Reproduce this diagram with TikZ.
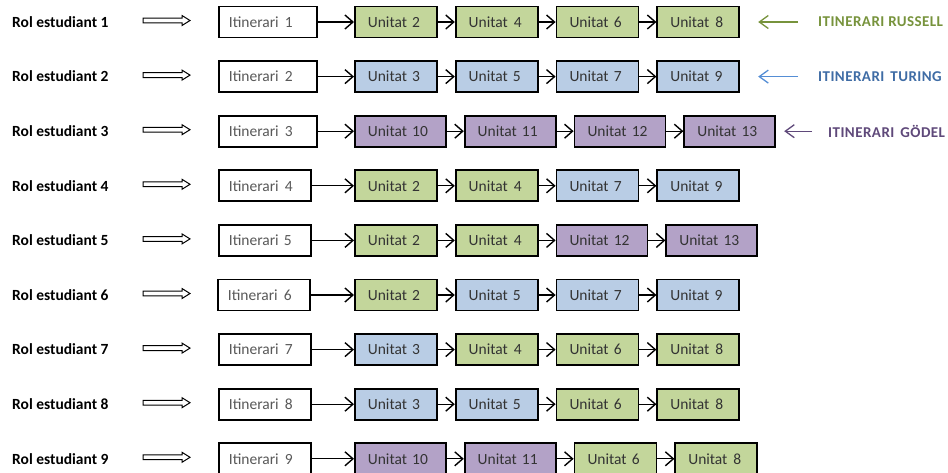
\documentclass[tikz,border=0pt]{standalone}
\usepackage{fontspec}
\setmainfont{Carlito}
\usepackage{xcolor}
\usetikzlibrary{arrows.meta,positioning}

\definecolor{rusfill}{HTML}{C3D69B}
\definecolor{turfill}{HTML}{B9CDE5}
\definecolor{godfill}{HTML}{B3A2C7}
\definecolor{rusline}{HTML}{77933C}
\definecolor{turline}{HTML}{558ED5}
\definecolor{turtext}{HTML}{3F6CA5}
\definecolor{godline}{HTML}{5F497A}
\definecolor{boxtext}{HTML}{333333}

\newcommand{\gap}{\hspace{6pt}}

\begin{document}
\begin{tikzpicture}[
  x=1pt, y=-1pt,
  node distance=17pt,
  box/.style={rectangle, draw=black, line width=1.8pt, anchor=west,
              font=\fontsize{15.5}{18}\selectfont, text=boxtext,
              minimum height=31pt, inner xsep=0pt, inner ysep=0pt,
              align=left},
  itin/.style={box, fill=white, text=black!65, text width=86pt, minimum width=92pt},
  wideitin/.style={itin, text width=92pt, minimum width=98pt},
  rus/.style={box, fill=rusfill, text width=70pt, minimum width=82pt},
  tur/.style={box, fill=turfill, text width=70pt, minimum width=82pt},
  god/.style={box, fill=godfill, text width=79pt, minimum width=91pt},
  rol/.style={anchor=west, font=\fontsize{15.5}{18}\selectfont\bfseries, inner sep=0pt},
  legend/.style={anchor=west, font=\fontsize{15}{18}\selectfont\bfseries\addfontfeature{LetterSpace=3}, inner sep=0pt},
  flow/.style={-{Straight Barb[length=8pt, width=14pt, line width=1.4pt]}, draw=black, line width=1.3pt},
  back/.style={-{Straight Barb[length=9pt, width=13pt, line width=1.3pt]}, line width=1.3pt},
  dblarrow/.pic={
    \draw[line width=1pt, fill=white, line join=miter]
      (0,-2.4) -- (39,-2.4) -- (39,-5) -- (47,-0) -- (39,5) -- (39,2.4) -- (0,2.4) -- cycle;
  }
]
\useasboundingbox (0,0) rectangle (948,472);

% student roles and their double arrows
\node[rol] (r1) at (12,22)    {Rol estudiant 1};
\node[rol] (r2) at (12,76.6)  {Rol estudiant 2};
\node[rol] (r3) at (12,131.2) {Rol estudiant 3};
\node[rol] (r4) at (12,185.8) {Rol estudiant 4};
\node[rol] (r5) at (12,240.4) {Rol estudiant 5};
\node[rol] (r6) at (12,295)   {Rol estudiant 6};
\node[rol] (r7) at (12,349.6) {Rol estudiant 7};
\node[rol] (r8) at (12,404.2) {Rol estudiant 8};
\node[rol] (r9) at (12,458.8) {Rol estudiant 9};
\pic at (143,20.5)  {dblarrow};
\pic at (143,75.1)  {dblarrow};
\pic at (143,129.7) {dblarrow};
\pic at (143,184.3) {dblarrow};
\pic at (143,238.9) {dblarrow};
\pic at (143,293.5) {dblarrow};
\pic at (143,348.1) {dblarrow};
\pic at (143,402.7) {dblarrow};
\pic at (143,457.3) {dblarrow};

% itineraries
\node[wideitin] (it1) at (218,22)    {\hspace{7pt}Itinerari\gap 1};
\node[wideitin] (it2) at (218,76.6)  {\hspace{7pt}Itinerari\gap 2};
\node[wideitin] (it3) at (218,131.2) {\hspace{7pt}Itinerari\gap 3};
\node[itin]     (it4) at (218,185.8) {\hspace{7pt}Itinerari\gap 4};
\node[itin]     (it5) at (218,240.4) {\hspace{7pt}Itinerari 5};
\node[itin]     (it6) at (217,295)   {\hspace{7pt}Itinerari\gap 6};
\node[itin]     (it7) at (218,349.6) {\hspace{7pt}Itinerari\gap 7};
\node[itin]     (it8) at (218,404.2) {\hspace{7pt}Itinerari\gap 8};
\node[itin]     (it9) at (218,458.8) {\hspace{7pt}Itinerari\gap 9};

% units per row
\node[rus] (a1) at (354,22) {\hspace{7pt}Unitat 2};
\node[rus, right=of a1] (b1) {\hspace{7pt}Unitat\gap 4};
\node[rus, right=of b1] (c1) {\hspace{7pt}Unitat 6};
\node[rus, right=of c1] (d1) {\hspace{7pt}Unitat\gap 8};

\node[tur] (a2) at (354,76.6) {\hspace{7pt}Unitat 3};
\node[tur, right=of a2] (b2) {\hspace{7pt}Unitat 5};
\node[tur, right=of b2] (c2) {\hspace{7pt}Unitat 7};
\node[tur, right=of c2] (d2) {\hspace{7pt}Unitat 9};

\node[god] (a3) at (354,131.2) {\hspace{7pt}Unitat 10};
\node[god, right=of a3] (b3) {\hspace{7pt}Unitat 11};
\node[god, right=of b3] (c3) {\hspace{7pt}Unitat 12};
\node[god, right=of c3] (d3) {\hspace{7pt}Unitat 13};

\node[rus] (a4) at (354,185.8) {\hspace{7pt}Unitat 2};
\node[rus, right=of a4] (b4) {\hspace{7pt}Unitat\gap 4};
\node[tur, right=of b4] (c4) {\hspace{7pt}Unitat 7};
\node[tur, right=of c4] (d4) {\hspace{7pt}Unitat 9};

\node[rus] (a5) at (354,240.4) {\hspace{7pt}Unitat 2};
\node[rus, right=of a5] (b5) {\hspace{7pt}Unitat\gap 4};
\node[god, right=of b5] (c5) {\hspace{7pt}Unitat 12};
\node[god, right=of c5] (d5) {\hspace{7pt}Unitat 13};

\node[rus] (a6) at (354,295) {\hspace{7pt}Unitat 2};
\node[tur, right=of a6] (b6) {\hspace{7pt}Unitat 5};
\node[tur, right=of b6] (c6) {\hspace{7pt}Unitat 7};
\node[tur, right=of c6] (d6) {\hspace{7pt}Unitat 9};

\node[tur] (a7) at (354,349.6) {\hspace{7pt}Unitat 3};
\node[rus, right=of a7] (b7) {\hspace{7pt}Unitat\gap 4};
\node[rus, right=of b7] (c7) {\hspace{7pt}Unitat 6};
\node[rus, right=of c7] (d7) {\hspace{7pt}Unitat\gap 8};

\node[tur] (a8) at (354,404.2) {\hspace{7pt}Unitat 3};
\node[tur, right=of a8] (b8) {\hspace{7pt}Unitat 5};
\node[rus, right=of b8] (c8) {\hspace{7pt}Unitat 6};
\node[rus, right=of c8] (d8) {\hspace{7pt}Unitat\gap 8};

\node[god] (a9) at (354,458.8) {\hspace{7pt}Unitat 10};
\node[god, right=of a9] (b9) {\hspace{7pt}Unitat 11};
\node[rus, right=of b9] (c9) {\hspace{7pt}Unitat 6};
\node[rus, right=of c9] (d9) {\hspace{7pt}Unitat\gap 8};

% chains
\draw[flow] (it1) -- (a1); \draw[flow] (a1) -- (b1); \draw[flow] (b1) -- (c1); \draw[flow] (c1) -- (d1);
\draw[flow] (it2) -- (a2); \draw[flow] (a2) -- (b2); \draw[flow] (b2) -- (c2); \draw[flow] (c2) -- (d2);
\draw[flow] (it3) -- (a3); \draw[flow] (a3) -- (b3); \draw[flow] (b3) -- (c3); \draw[flow] (c3) -- (d3);
\draw[flow] (it4) -- (a4); \draw[flow] (a4) -- (b4); \draw[flow] (b4) -- (c4); \draw[flow] (c4) -- (d4);
\draw[flow] (it5) -- (a5); \draw[flow] (a5) -- (b5); \draw[flow] (b5) -- (c5); \draw[flow] (c5) -- (d5);
\draw[flow] (it6) -- (a6); \draw[flow] (a6) -- (b6); \draw[flow] (b6) -- (c6); \draw[flow] (c6) -- (d6);
\draw[flow] (it7) -- (a7); \draw[flow] (a7) -- (b7); \draw[flow] (b7) -- (c7); \draw[flow] (c7) -- (d7);
\draw[flow] (it8) -- (a8); \draw[flow] (a8) -- (b8); \draw[flow] (b8) -- (c8); \draw[flow] (c8) -- (d8);
\draw[flow] (it9) -- (a9); \draw[flow] (a9) -- (b9); \draw[flow] (b9) -- (c9); \draw[flow] (c9) -- (d9);

% named itineraries
\node[legend, text=rusline] (rus) at (818,22)    {ITINERARI RUSSELL};
\node[legend, text=turtext] (tur) at (818,76.6)  {ITINERARI\gap TURING};
\node[legend, text=godline] (god) at (828,131.2) {ITINERARI\gap GÖDEL};
\draw[back, rusline, shorten <=20pt, shorten >=18pt] (rus.west) -- (d1.east);
\draw[back, turline, shorten <=20pt, shorten >=18pt] (tur.west) -- (d2.east);
\draw[back, godline, shorten <=16pt, shorten >=8pt] (god.west) -- (d3.east);
\end{tikzpicture}
\end{document}
